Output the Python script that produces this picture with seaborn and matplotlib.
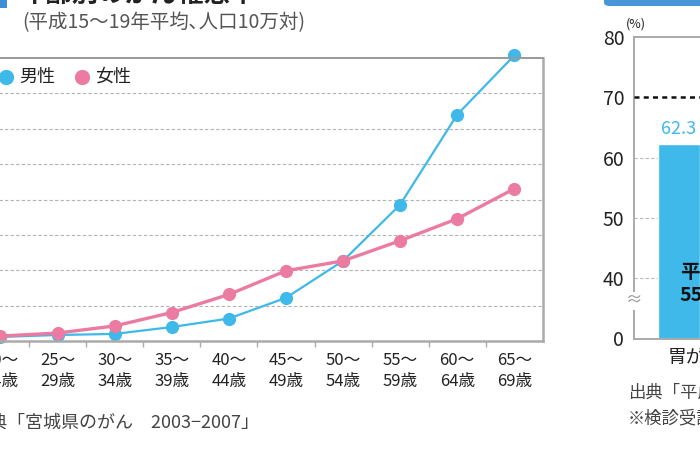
import numpy as np
import pandas as pd
import matplotlib
matplotlib.use("Agg")
import matplotlib.pyplot as plt
import matplotlib.transforms as mtransforms
import seaborn as sns
from matplotlib.lines import Line2D
from matplotlib.patches import FancyBboxPatch, Rectangle

# ---------------- data ----------------
age_top = ["20〜", "25〜", "30〜", "35〜", "40〜", "45〜", "50〜", "55〜", "60〜", "65〜"]
age_bottom = ["24歳", "29歳", "34歳", "39歳", "44歳", "49歳", "54歳", "59歳", "64歳", "69歳"]
male = [23, 34, 40, 79, 127, 244, 453, 771, 1280, 1615]
female = [28, 45, 85, 161, 263, 397, 453, 567, 691, 861]
series_names = ["男性", "女性"]

bar_categories = ["胃がん"]
bar_values = [62.3]
target_rate = 70
right_tick_values = [30, 40, 50, 60, 70, 80]
right_tick_labels = ["0", "40", "50", "60", "70", "80"]

BLUE = "#3fb8ea"
PINK = "#ec7ba2"
W, H = 700, 450

sns.set_theme(style="white")
plt.rcParams["font.family"] = ["Noto Sans CJK JP", "DejaVu Sans"]

fig = plt.figure(figsize=(7, 4.5), dpi=100)
fig.patch.set_facecolor("white")

def fx(x):
    return x / W

def fy(y):
    return 1 - y / H

# ---------------- left line chart ----------------
ax = fig.add_axes([fx(-28.1), fy(341), 571 / W, 283 / H])
labels = [f"{a}\n{b}" for a, b in zip(age_top, age_bottom)]
df = pd.DataFrame({
    "age": list(range(len(labels))) * 2,
    "rate": male + female,
    "sex": [series_names[0]] * len(male) + [series_names[1]] * len(female),
})
sns.lineplot(data=df[df.sex == series_names[0]], x="age", y="rate", color=BLUE, lw=1.6,
             marker="o", markersize=9.5, markeredgewidth=0, ax=ax, legend=False)
sns.lineplot(data=df[df.sex == series_names[1]], x="age", y="rate", color=PINK, lw=2.4,
             marker="o", markersize=9.5, markeredgewidth=0, ax=ax, legend=False)
for ln in ax.lines:
    ln.set_clip_on(False)

ax.set_xlim(-0.5, 9.5)
ax.set_ylim(0, 1600)
ax.set_xlabel("")
ax.set_ylabel("")
ax.set_xticks(range(len(labels)))
ax.set_xticklabels(labels, fontsize=12, color="#222", linespacing=1.3)
offset = mtransforms.ScaledTranslation(3 / 100, 0, fig.dpi_scale_trans)
for lab in ax.get_xticklabels():
    lab.set_transform(lab.get_transform() + offset)
ax.set_xticks(np.arange(0.5, 9, 1), minor=True)
ax.tick_params(axis="x", which="major", length=0, pad=8)
ax.tick_params(axis="x", which="minor", length=4, width=1, color="#aaaaaa", direction="out", bottom=True)
ax.set_yticks(range(200, 1600, 200))
ax.set_yticklabels([])
ax.tick_params(axis="y", length=0)
ax.yaxis.grid(True, linestyle=(0, (3, 2)), color="#b3b3b3", lw=0.8)
ax.xaxis.grid(False)
ax.spines["left"].set_visible(False)
ax.spines["top"].set_color("#9a9a9a")
ax.spines["top"].set_linewidth(1.4)
ax.spines["right"].set_color("#aaaaaa")
ax.spines["right"].set_linewidth(1.8)
ax.spines["bottom"].set_color("#aaaaaa")
ax.spines["bottom"].set_linewidth(1.8)

# legend (manual)
fig.add_artist(Line2D([fx(6)], [fy(77)], marker="o", markersize=11, color=BLUE, markeredgewidth=0, transform=fig.transFigure))
fig.text(fx(19), fy(77), series_names[0], fontsize=13, va="center", ha="left", color="#222")
fig.add_artist(Line2D([fx(82)], [fy(77)], marker="o", markersize=11, color=PINK, markeredgewidth=0, transform=fig.transFigure))
fig.text(fx(95), fy(77), series_names[1], fontsize=13, va="center", ha="left", color="#222")

# headings
fig.add_artist(Rectangle((fx(-4), fy(8)), 11 / W, 14 / H, transform=fig.transFigure, color="#3d8fd6", lw=0))
fig.text(fx(20), fy(-6), "年齢別のがん罹患率", fontsize=19, weight="bold", va="center", ha="left", color="#222")
fig.text(fx(22), fy(23), "(平成15〜19年平均､人口10万対)", fontsize=14, va="center", ha="left", color="#555")
fig.text(fx(259), fy(423), "出典「宮城県のがん　2003−2007」", fontsize=13, va="center", ha="right", color="#444")

# ---------------- right bar chart ----------------
px_per_unit = 132.0
axR = fig.add_axes([fx(634), fy(338.5), 300 / W, (338.5 - 37) / H])
sns.barplot(x=bar_categories, y=bar_values, color=BLUE, width=42 / px_per_unit,
            saturation=1, ax=axR)
x0 = -45 / px_per_unit
axR.set_xlim(x0, x0 + 300 / px_per_unit)
axR.set_ylim(30, 80)
axR.set_xlabel("")
axR.set_ylabel("")
axR.set_xticks([17 / px_per_unit])
axR.set_xticklabels(bar_categories, fontsize=13.5, color="#222")
axR.tick_params(axis="x", length=0, pad=6)
axR.set_yticks(right_tick_values)
axR.set_yticklabels(right_tick_labels, fontsize=14, color="#222")
axR.tick_params(axis="y", length=0, pad=7)
for v in [40, 50, 60]:
    axR.axhline(v, color="#bbbbbb", lw=0.8, ls=(0, (3, 2)), zorder=0)
axR.axhline(target_rate, color="#111111", lw=1.8, ls=(0, (2, 1.7)), zorder=3)
for s in ["left", "top", "bottom"]:
    axR.spines[s].set_color("#aaaaaa")
    axR.spines[s].set_linewidth(1.4)
axR.spines["right"].set_visible(False)
for p, v in zip(axR.patches, bar_values):
    axR.text(p.get_x() + p.get_width() / 2, v + 1.0, f"{v:.1f}", color=BLUE,
             fontsize=13, ha="center", va="bottom")
axR.text(21 / px_per_unit, 39.1, "平均\n55.9", fontsize=14, weight="bold",
         ha="center", va="center", color="#111", linespacing=1.25)

fig.text(fx(636), fy(24), "(%)", fontsize=9, ha="center", va="center", color="#222")
fig.text(fx(634), fy(301), "≈", fontsize=12, ha="center", va="center", color="#999999",
         bbox=dict(facecolor="white", edgecolor="none", pad=0.5))
fig.add_artist(FancyBboxPatch((fx(604), fy(6)), 200 / W, 20 / H, boxstyle="round,pad=0,rounding_size=0.008",
                              transform=fig.transFigure, color="#4a95d6", lw=0))
fig.text(fx(628), fy(393), "出典「平成22年国民生活基礎調査」", fontsize=12.5, va="center", ha="left", color="#444")
fig.text(fx(628), fy(418), "※検診受診率は40〜69歳", fontsize=12.5, va="center", ha="left", color="#444")

fig.savefig("out.png", dpi=100, facecolor="white")
